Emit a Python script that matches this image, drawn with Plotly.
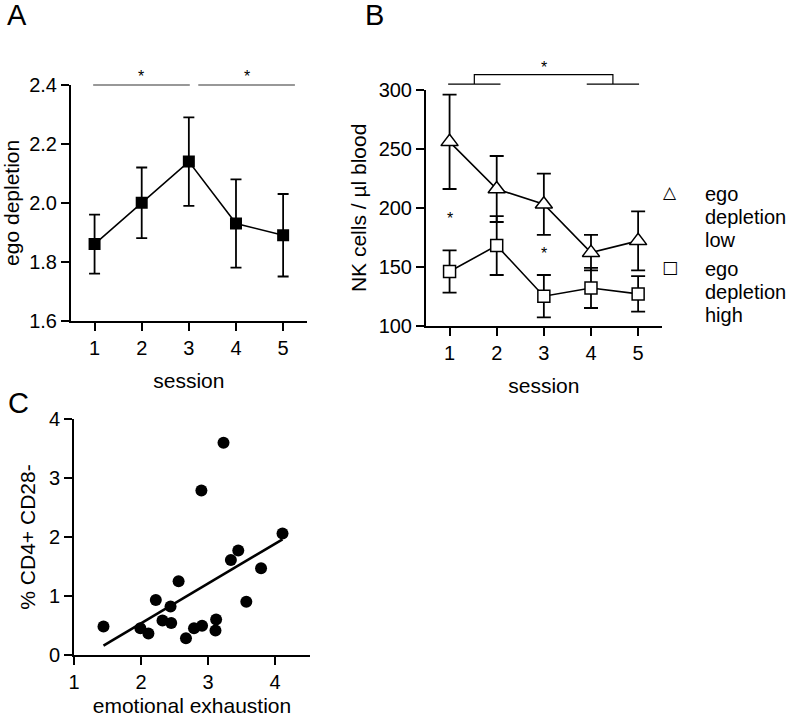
import plotly.graph_objects as go
import numpy as np

W, H = 788, 717
FONT = "Liberation Sans, Arial, sans-serif"

# ---------------- data ----------------
sessions = [1, 2, 3, 4, 5]

# Panel A: ego depletion per session (mean, SEM)
ego_mean = [1.86, 2.00, 2.14, 1.93, 1.89]
ego_err = [0.10, 0.12, 0.15, 0.15, 0.14]

# Panel B: NK cells / µl blood
nk_low_mean = [256, 216, 203, 162, 172]
nk_low_err = [40, 28, 26, 15, 25]
nk_high_mean = [146, 168, 125, 132, 127]
nk_high_err = [18, 25, 18, 17, 15]

# Panel C: emotional exhaustion vs % CD4+ CD28-
emo_exh = [1.44, 1.99, 2.11, 2.22, 2.32, 2.45, 2.44, 2.56, 2.67, 2.79,
           2.91, 2.90, 3.12, 3.11, 3.23, 3.34, 3.45, 3.57, 3.79, 4.11]
cd28_neg = [0.48, 0.45, 0.36, 0.93, 0.58, 0.54, 0.82, 1.25, 0.28, 0.45,
            0.49, 2.79, 0.60, 0.41, 3.60, 1.61, 1.77, 0.90, 1.47, 2.06]

# significance markers
sig_a_spans = [(0.97, 3.02), (3.20, 5.25)]
sig_a_level = 2.40
sig_a_star = 2.43
sig_b_spans = [(0.97, 2.08), (3.91, 5.02)]
sig_b_level = 305
sig_b_bracket = 313
sig_b_star = 319
sig_b_session_stars_x = [1, 3]
sig_b_session_stars_y = [191, 161]

legend_low = ["ego", "depletion", "low"]
legend_high = ["ego", "depletion", "high"]

# ---------------- layout geometry ----------------
DOM_A_X = [71 / W, 306.7 / W]
DOM_A_Y = [1 - 320.7 / H, 1 - 85 / H]
DOM_B_X = [426 / W, 661.7 / W]
DOM_B_Y = [1 - 325.7 / H, 1 - 90 / H]
DOM_C_X = [74 / W, 310 / W]
DOM_C_Y = [1 - 654.7 / H, 1 - 419.3 / H]
RNG_A_Y = [1.6, 2.4]
RNG_B_Y = [100, 300]


def yp(v, dom, rng):
    return dom[0] + (v - rng[0]) / (rng[1] - rng[0]) * (dom[1] - dom[0])


fig = go.Figure()

# Panel A
fig.add_trace(go.Scatter(
    x=sessions, y=ego_mean, mode="lines+markers",
    line=dict(color="black", width=1.6),
    marker=dict(symbol="square", size=12, color="black"),
    error_y=dict(type="data", array=ego_err, color="black", thickness=1.8, width=5.5),
    xaxis="x", yaxis="y", showlegend=False))

# Panel B
fig.add_trace(go.Scatter(
    x=sessions, y=nk_low_mean, mode="lines+markers",
    line=dict(color="black", width=1.6),
    marker=dict(symbol="triangle-up", size=15, color="white", line=dict(color="black", width=1.5)),
    error_y=dict(type="data", array=nk_low_err, color="black", thickness=1.8, width=7),
    xaxis="x2", yaxis="y2", showlegend=False))
fig.add_trace(go.Scatter(
    x=sessions, y=nk_high_mean, mode="lines+markers",
    line=dict(color="black", width=1.6),
    marker=dict(symbol="square", size=12, color="white", line=dict(color="black", width=1.5)),
    error_y=dict(type="data", array=nk_high_err, color="black", thickness=1.8, width=7),
    xaxis="x2", yaxis="y2", showlegend=False))

# Panel C
fig.add_trace(go.Scatter(
    x=emo_exh, y=cd28_neg, mode="markers",
    marker=dict(symbol="circle", size=12, color="black"),
    xaxis="x3", yaxis="y3", showlegend=False))
slope, intercept = np.polyfit(emo_exh, cd28_neg, 1)
fx = np.array([min(emo_exh), max(emo_exh)])
fig.add_trace(go.Scatter(
    x=fx, y=slope * fx + intercept, mode="lines",
    line=dict(color="black", width=2.6),
    xaxis="x3", yaxis="y3", showlegend=False))

axis_common = dict(showline=True, linecolor="black", linewidth=2, ticks="outside",
                   ticklen=8, tickwidth=2, tickcolor="black", showgrid=False,
                   zeroline=False, tickfont=dict(family=FONT, size=20, color="black"))
title_font = dict(family=FONT, size=21, color="black")

fig.update_layout(
    width=W, height=H, margin=dict(l=0, r=0, t=0, b=0, autoexpand=False),
    paper_bgcolor="white", plot_bgcolor="white",
    font=dict(family=FONT, color="black"),
    xaxis=dict(domain=DOM_A_X, range=[0.5, 5.5], tickvals=sessions, anchor="y",
               title=dict(text="session", font=title_font, standoff=16), **axis_common),
    yaxis=dict(domain=DOM_A_Y, range=RNG_A_Y, tickvals=[1.6, 1.8, 2.0, 2.2, 2.4],
               ticktext=["1.6", "1.8", "2.0", "2.2", "2.4"], anchor="x",
               title=dict(text="ego depletion", font=title_font, standoff=6), **axis_common),
    xaxis2=dict(domain=DOM_B_X, range=[0.5, 5.5], tickvals=sessions, anchor="y2",
                title=dict(text="session", font=title_font, standoff=16), **axis_common),
    yaxis2=dict(domain=DOM_B_Y, range=RNG_B_Y, tickvals=[100, 150, 200, 250, 300], anchor="x2",
                title=dict(text="NK cells / µl blood", font=title_font, standoff=6), **axis_common),
    xaxis3=dict(domain=DOM_C_X, range=[1, 4.52], tickvals=[1, 2, 3, 4], anchor="y3",
                title=dict(text="emotional exhaustion", font=title_font, standoff=14), **axis_common),
    yaxis3=dict(domain=DOM_C_Y, range=[0, 4], tickvals=[0, 1, 2, 3, 4], anchor="x3",
                title=dict(text="% CD4+ CD28-", font=title_font, standoff=8), **axis_common),
)

shapes = []
annotations = []
# Panel A significance
for a, b in sig_a_spans:
    y = yp(sig_a_level, DOM_A_Y, RNG_A_Y)
    shapes.append(dict(type="line", xref="x", yref="paper", x0=a, x1=b, y0=y, y1=y,
                       line=dict(color="#333333", width=1.2)))
    annotations.append(dict(xref="x", yref="paper", x=(a + b) / 2,
                            y=yp(sig_a_star, DOM_A_Y, RNG_A_Y), text="*", showarrow=False,
                            font=dict(family=FONT, size=16, color="black"), yanchor="middle"))
# Panel B significance bracket
yl = yp(sig_b_level, DOM_B_Y, RNG_B_Y)
yb = yp(sig_b_bracket, DOM_B_Y, RNG_B_Y)
mids = []
for a, b in sig_b_spans:
    shapes.append(dict(type="line", xref="x2", yref="paper", x0=a, x1=b, y0=yl, y1=yl,
                       line=dict(color="black", width=1.2)))
    mids.append((a + b) / 2)
shapes.append(dict(type="path", xref="x2", yref="paper",
                   path=f"M {mids[0]},{yl} L {mids[0]},{yb} L {mids[1]},{yb} L {mids[1]},{yl}",
                   line=dict(color="black", width=1.2)))
annotations.append(dict(xref="x2", yref="paper", x=(mids[0] + mids[1]) / 2,
                        y=yp(sig_b_star, DOM_B_Y, RNG_B_Y), text="*", showarrow=False,
                        font=dict(family=FONT, size=16, color="black"), yanchor="middle"))
for sx, sy in zip(sig_b_session_stars_x, sig_b_session_stars_y):
    annotations.append(dict(xref="x2", yref="y2", x=sx, y=sy, text="*", showarrow=False,
                            font=dict(family=FONT, size=16, color="black"), yanchor="middle"))

# Legend for panel B
for sym, lines, y0 in [("△", legend_low, 192), ("□", legend_high, 267)]:
    annotations.append(dict(xref="paper", yref="paper", x=670 / W, y=1 - y0 / H, text=sym,
                            showarrow=False, xanchor="center", yanchor="middle",
                            font=dict(family="DejaVu Sans", size=17, color="black")))
    for i, t in enumerate(lines):
        annotations.append(dict(xref="paper", yref="paper", x=703 / W, y=1 - (y0 + 2 + 23 * i) / H,
                                text=t, showarrow=False, xanchor="left", yanchor="middle",
                                font=dict(family=FONT, size=20, color="black")))

# Panel labels
for lab, x, y in [("A", 5, 15), ("B", 363, 15), ("C", 6, 403)]:
    annotations.append(dict(xref="paper", yref="paper", x=x / W, y=1 - y / H, text=lab,
                            showarrow=False, xanchor="left", yanchor="middle",
                            font=dict(family=FONT, size=29, color="black")))

fig.update_layout(shapes=shapes, annotations=annotations)
fig.write_html("out.html", config={"displayModeBar": False},
               post_script="document.body.style.margin='0';document.body.style.overflow='hidden';")
